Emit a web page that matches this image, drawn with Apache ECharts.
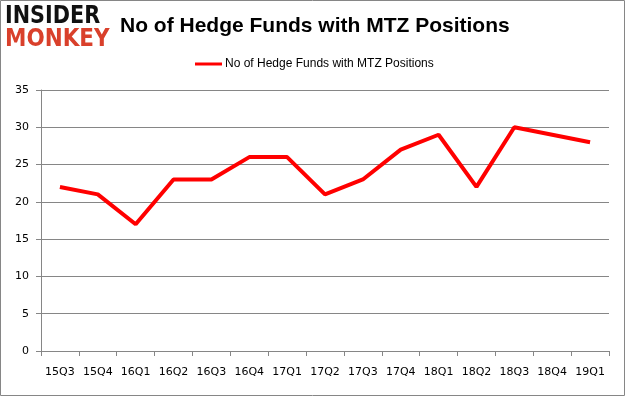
<!DOCTYPE html>
<html>
<head>
<meta charset="utf-8">
<script src="https://cdn.jsdelivr.net/npm/echarts@6/dist/echarts.min.js"></script>
<style>
    html, body { margin: 0; padding: 0; background: #fff; }
    #chart { width: 626px; height: 397px; }
</style>
</head>
<body>
<div id="chart"></div>
<script>
// 季度与持仓基金数
const quarters = ['15Q3', '15Q4', '16Q1', '16Q2', '16Q3', '16Q4', '17Q1', '17Q2',
    '17Q3', '17Q4', '18Q1', '18Q2', '18Q3', '18Q4', '19Q1'];
const fundCounts = [22, 21, 17, 23, 23, 26, 26, 21, 23, 27, 29, 22, 30, 29, 28];
const seriesName = 'No of Hedge Funds with MTZ Positions';

const chart = echarts.init(document.getElementById('chart'));

const option = {
    animation: false,
    legend: {
        top: 53,
        left: 190,
        itemWidth: 27,
        itemHeight: 3,
        itemGap: 4,
        icon: 'rect',
        textStyle: {
            fontFamily: 'Liberation Sans',
            fontSize: 12,
            color: '#000',
            padding: [0, 0, 0, -2]
        },
        data: [seriesName]
    },
    grid: {
        left: 41,
        right: 17,
        top: 90,
        bottom: 46
    },
    xAxis: {
        type: 'category',
        boundaryGap: true,
        data: quarters,
        axisLine: { lineStyle: { color: '#868686' } },
        axisTick: { show: true, interval: 0, length: 5, lineStyle: { color: '#868686' } },
        axisLabel: {
            interval: 0,
            margin: 16,
            fontFamily: 'DejaVu Sans',
            fontSize: 11,
            color: '#000'
        }
    },
    yAxis: {
        type: 'value',
        min: 0,
        max: 35,
        interval: 5,
        axisLine: { show: true, lineStyle: { color: '#868686' } },
        axisTick: { show: true, length: 5, lineStyle: { color: '#868686' } },
        splitLine: { lineStyle: { color: '#868686' } },
        axisLabel: {
            margin: 12,
            fontFamily: 'DejaVu Sans',
            fontSize: 11,
            color: '#000'
        }
    },
    series: [{
        name: seriesName,
        type: 'line',
        data: fundCounts,
        symbol: 'none',
        lineStyle: { color: '#ff0000', width: 4 },
        itemStyle: { color: '#ff0000' }
    }],
    graphic: [
        {
            type: 'rect',
            shape: { x: 0.5, y: 0.5, width: 624, height: 395 },
            style: { fill: 'none', stroke: '#868686', lineWidth: 1 }
        },
        {
            type: 'text',
            x: 120,
            y: 16,
            style: {
                text: 'No of Hedge Funds with MTZ Positions',
                fontFamily: 'Liberation Sans',
                fontSize: 21,
                fontWeight: 'bold',
                fill: '#000'
            }
        },
        {
            type: 'text',
            x: 5,
            y: 4,
            scaleX: 0.83,
            style: {
                text: 'INSIDER',
                fontFamily: 'DejaVu Sans',
                fontSize: 25,
                fontWeight: 'bold',
                fill: '#111'
            }
        },
        {
            type: 'text',
            x: 5,
            y: 27,
            scaleX: 0.86,
            style: {
                text: 'MONKEY',
                fontFamily: 'DejaVu Sans',
                fontSize: 25,
                fontWeight: 'bold',
                fill: '#d9402b'
            }
        }
    ]
};

chart.setOption(option);
</script>
</body>
</html>
